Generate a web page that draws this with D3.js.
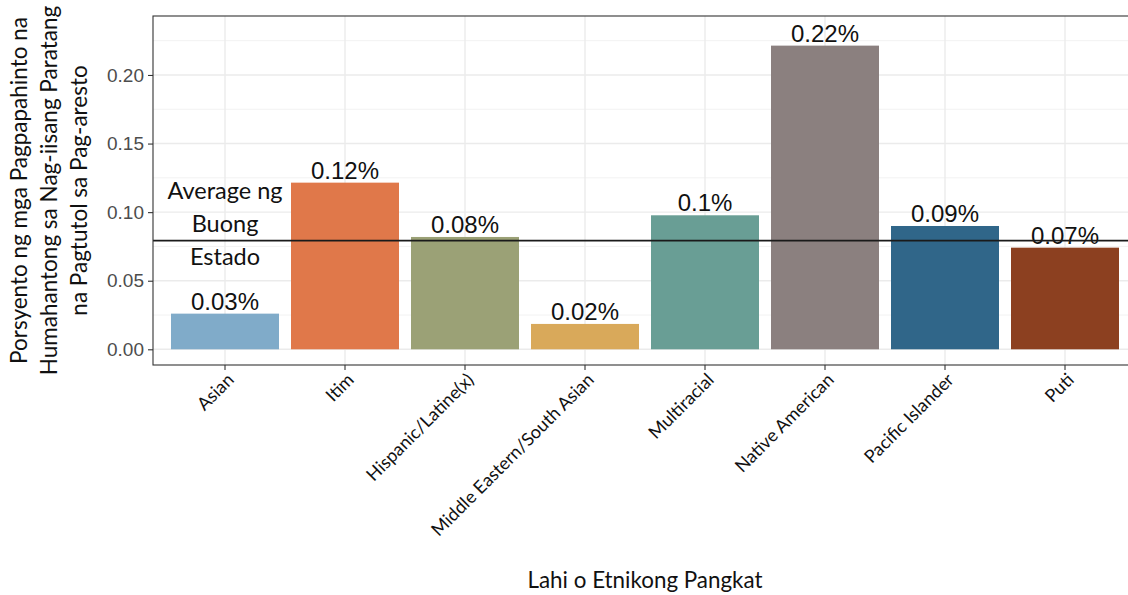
<!DOCTYPE html>
<html><head><meta charset="utf-8">
<script src="https://cdn.jsdelivr.net/npm/d3@7"></script>
<style>body{margin:0;background:#fff}svg{display:block}</style>
</head><body>
<svg id="c" width="1128" height="595"></svg>
<script>
const categories = ["Asian","Itim","Hispanic/Latine(x)","Middle Eastern/South Asian","Multiracial","Native American","Pacific Islander","Puti"];
const values = [0.026, 0.1215, 0.0819, 0.0185, 0.0977, 0.2214, 0.0899, 0.0741];
const valueLabels = ["0.03%","0.12%","0.08%","0.02%","0.1%","0.22%","0.09%","0.07%"];
const barColors = ["#80abc9","#e0784a","#9ba176","#d9a95a","#699e95","#8b807f","#306689","#8c4020"];
const stateAverage = 0.0792;
const yTicks = [0, 0.05, 0.10, 0.15, 0.20];
const yMinorTicks = [0.025, 0.075, 0.125, 0.175, 0.225];
const avgLabelLines = ["Average ng","Buong","Estado"];
const yTitleLines = ["Porsyento ng mga Pagpapahinto na","Humahantong sa Nag-iisang Paratang","na Pagtutol sa Pag-aresto"];
const xTitle = "Lahi o Etnikong Pangkat";

const svg = d3.select("#c");
const L = 153, R = 1137, T = 16, B = 365;
const x = d3.scaleBand().domain(categories).range([L, R]).paddingInner(0.1).paddingOuter(0.15);
const y = d3.scaleLinear().domain([0, 0.243]).range([349.3, T]);
const y0 = y(0);

const g = svg.append("g");
// gridlines
g.selectAll(".minor").data(yMinorTicks).join("line")
  .attr("x1", L).attr("x2", R).attr("y1", d => y(d)).attr("y2", d => y(d))
  .attr("stroke", "#f2f2f2").attr("stroke-width", 1);
g.selectAll(".major").data(yTicks).join("line")
  .attr("x1", L).attr("x2", R).attr("y1", d => y(d)).attr("y2", d => y(d))
  .attr("stroke", "#ebebeb").attr("stroke-width", 1.4);
g.selectAll(".vgrid").data(categories).join("line")
  .attr("x1", d => x(d) + x.bandwidth()/2).attr("x2", d => x(d) + x.bandwidth()/2)
  .attr("y1", T).attr("y2", B)
  .attr("stroke", "#ebebeb").attr("stroke-width", 1.4);

// bars
g.selectAll(".bar").data(categories).join("rect")
  .attr("x", d => x(d)).attr("width", x.bandwidth())
  .attr("y", (d,i) => y(values[i])).attr("height", (d,i) => y0 - y(values[i]))
  .attr("fill", (d,i) => barColors[i]);

// value labels
g.selectAll(".vl").data(categories).join("text")
  .attr("x", d => x(d) + x.bandwidth()/2)
  .attr("y", (d,i) => y(values[i]) - 4)
  .attr("text-anchor", "middle")
  .attr("font-family", "Liberation Sans, Arial, sans-serif")
  .attr("font-size", 24).attr("fill", "#111")
  .text((d,i) => valueLabels[i]);

// average label
const ax = x(categories[0]) + x.bandwidth()/2;
g.selectAll(".al").data(avgLabelLines).join("text")
  .attr("x", ax).attr("y", (d,i) => 199 + i*33)
  .attr("text-anchor", "middle")
  .attr("font-family", "Lato, sans-serif")
  .attr("font-size", 23.5).attr("fill", "#111")
  .text(d => d);

// average line
g.append("line").attr("x1", L).attr("x2", R)
  .attr("y1", y(stateAverage)).attr("y2", y(stateAverage))
  .attr("stroke", "#1a1a1a").attr("stroke-width", 1.6);

// panel border
g.append("rect").attr("x", L).attr("y", T).attr("width", R - L).attr("height", B - T)
  .attr("fill", "none").attr("stroke", "#333").attr("stroke-width", 1.1);

// y axis
const yAxis = d3.axisLeft(y).tickValues(yTicks).tickFormat(d3.format(".2f")).tickSize(5).tickPadding(4);
const ya = svg.append("g").attr("transform", `translate(${L},0)`).call(yAxis);
ya.select(".domain").remove();
ya.selectAll("line").attr("stroke", "#333").attr("stroke-width", 1.1);
ya.selectAll("text").attr("font-family", "Liberation Sans, Arial, sans-serif").attr("font-size", 19).attr("fill", "#4d4d4d");

// x axis
const xAxis = d3.axisBottom(x).tickSize(5).tickPadding(3);
const xa = svg.append("g").attr("transform", `translate(0,${B})`).call(xAxis);
xa.select(".domain").remove();
xa.selectAll("line").attr("stroke", "#333").attr("stroke-width", 1.1);
xa.selectAll("text")
  .attr("font-family", "Lato, sans-serif").attr("font-size", 18).attr("fill", "#111")
  .attr("text-anchor", "end")
  .attr("dy", null).attr("y", 0)
  .attr("transform", "translate(10,16) rotate(-45)");

// y title
const yt = svg.append("text").attr("transform", `translate(0,${(T+B)/2}) rotate(-90)`)
  .attr("text-anchor", "middle").attr("font-family", "Lato, sans-serif").attr("font-size", 22.5).attr("fill", "#111");
yTitleLines.forEach((t,i) => yt.append("tspan").attr("x", 0).attr("y", 27 + i*30).text(t));

// x title
svg.append("text").attr("x", (L+R)/2).attr("y", 588).attr("text-anchor", "middle")
  .attr("font-family", "Lato, sans-serif").attr("font-size", 22.4).attr("fill", "#111").text(xTitle);
</script>
</body></html>
